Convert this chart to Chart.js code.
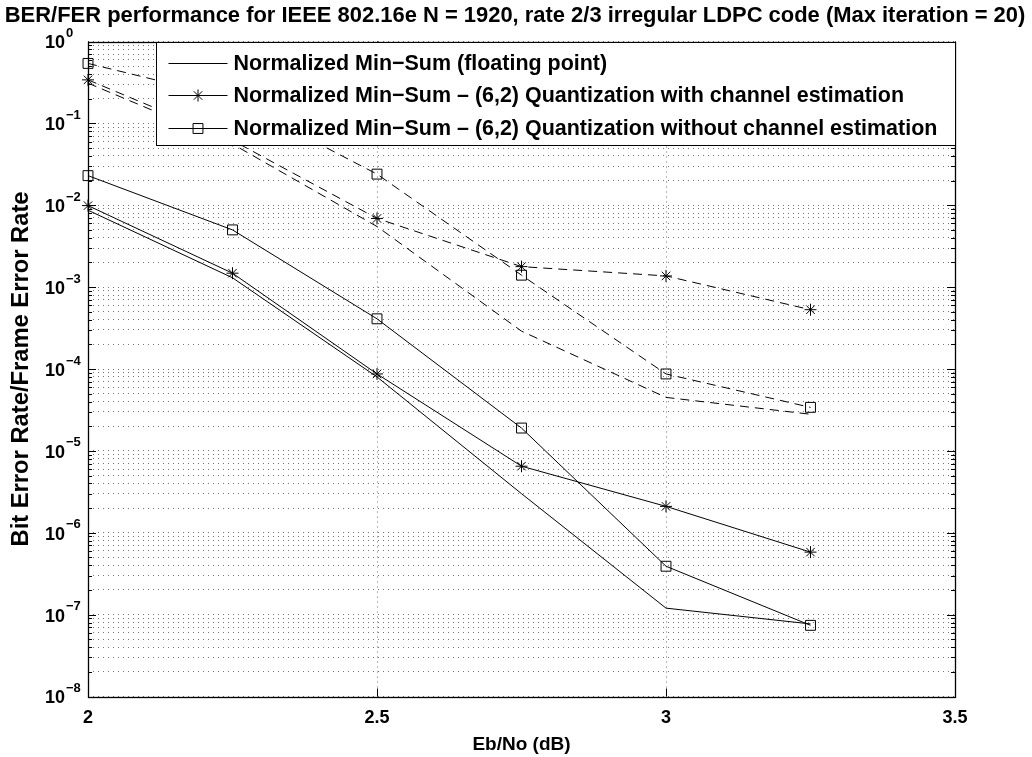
<!DOCTYPE html>
<html>
<head>
<meta charset="utf-8">
<script src="https://cdn.jsdelivr.net/npm/chart.js@4.4.1/dist/chart.umd.min.js"></script>
<style>
  html, body { margin: 0; padding: 0; background: #fff; }
</style>
</head>
<body>
<canvas id="ber-fer-chart" width="1032" height="757"></canvas>
<script>
const EBNO = [2, 2.25, 2.5, 2.75, 3, 3.25];

// bit error rate (solid lines)
const BER_FLOAT = [8.7e-3, 1.3e-3, 8.0e-5, 3.0e-6, 1.2e-7, 7.7e-8];
const BER_Q_CE = [9.9e-3, 1.48e-3, 8.7e-5, 6.5e-6, 2.1e-6, 5.8e-7];
const BER_Q_NOCE = [2.3e-2, 5.0e-3, 4.1e-4, 1.9e-5, 3.9e-7, 7.4e-8];

// frame error rate (dashed lines)
const FER_FLOAT = [0.31, 0.056, 5.5e-3, 2.9e-4, 4.5e-5, 2.8e-5];
const FER_Q_CE = [0.34, 0.062, 6.9e-3, 1.78e-3, 1.37e-3, 5.3e-4];
const FER_Q_NOCE = [0.54, 0.20, 2.4e-2, 1.4e-3, 8.7e-5, 3.4e-5];

const X_TICKS = [2, 2.5, 3, 3.5];
const Y_EXPONENTS = [-8, -7, -6, -5, -4, -3, -2, -1, 0];

const TITLE = 'BER/FER performance for IEEE 802.16e N = 1920, rate 2/3 irregular LDPC code (Max iteration = 20)';
const X_LABEL = 'Eb/No (dB)';
const Y_LABEL = 'Bit Error Rate/Frame Error Rate';
const LABEL_FLOAT = 'Normalized Min\u2212Sum (floating point)';
const LABEL_CE = 'Normalized Min\u2212Sum \u2013 (6,2) Quantization with channel estimation';
const LABEL_NOCE = 'Normalized Min\u2212Sum \u2013 (6,2) Quantization without channel estimation';

const FONT = '"Liberation Sans", Arial, Helvetica, sans-serif';
const GRID_COLOR = 'rgba(0,0,0,0.55)';
const DASH = [9, 6];

const STAR = { pointStyle: 'star', pointRadius: 6 };
const SQUARE = { pointStyle: 'rect', pointRadius: 7 };
const NONE = { pointRadius: 0 };

function series(label, values, marker, dashed, inLegend) {
  return Object.assign({
    label: label,
    data: EBNO.map((x, i) => ({ x: x, y: values[i] })),
    borderColor: '#000',
    borderWidth: 1,
    borderDash: dashed ? DASH : [],
    pointBorderColor: '#000',
    pointBackgroundColor: 'rgba(0,0,0,0)',
    pointBorderWidth: 1,
    tension: 0,
    clip: false,
    inLegend: inLegend,
  }, marker);
}

// size a bold font so the text spans the given width
function fitFont(ctx, text, width) {
  ctx.font = 'bold 100px ' + FONT;
  return 100 * width / ctx.measureText(text).width;
}

function drawMarker(ctx, style, r, x, y) {
  ctx.beginPath();
  if (style === 'star') {
    for (let k = 0; k < 4; k++) {
      const a = k * Math.PI / 4;
      ctx.moveTo(x - r * Math.cos(a), y - r * Math.sin(a));
      ctx.lineTo(x + r * Math.cos(a), y + r * Math.sin(a));
    }
  } else if (style === 'rect') {
    const s = r * Math.SQRT1_2;
    ctx.rect(x - s, y - s, 2 * s, 2 * s);
  }
  ctx.stroke();
}

// box, inward ticks and the legend on top of the lines
const frameAndLegend = {
  id: 'frameAndLegend',
  afterDatasetsDraw(chart) {
    const { ctx, chartArea: a } = chart;
    const xs = chart.scales.x, ys = chart.scales.y;
    ctx.save();
    ctx.strokeStyle = '#000';
    ctx.lineWidth = 1;
    ctx.setLineDash([]);

    ctx.beginPath();
    ys.ticks.forEach(t => {
      const y = Math.round(ys.getPixelForValue(t.value)) + 0.5;
      const e = Math.log10(t.value);
      const len = Math.abs(e - Math.round(e)) < 1e-9 ? 8 : 4;
      ctx.moveTo(a.left, y); ctx.lineTo(a.left + len, y);
      ctx.moveTo(a.right, y); ctx.lineTo(a.right - len, y);
    });
    xs.ticks.forEach(t => {
      const x = Math.round(xs.getPixelForValue(t.value)) + 0.5;
      ctx.moveTo(x, a.bottom); ctx.lineTo(x, a.bottom - 8);
      ctx.moveTo(x, a.top); ctx.lineTo(x, a.top + 8);
    });
    ctx.stroke();

    ctx.lineWidth = 1.3;
    ctx.strokeRect(Math.round(a.left) + 0.5, Math.round(a.top) + 0.5,
      Math.round(a.right - a.left), Math.round(a.bottom - a.top));

    // legend
    const items = chart.data.datasets.filter(d => d.inLegend);
    const left = Math.round(a.left + 68) + 0.5;
    const top = Math.round(a.top) + 0.5;
    const right = Math.round(a.right) + 0.5;
    const height = 103;
    ctx.fillStyle = '#fff';
    ctx.fillRect(left, top, right - left, height);
    ctx.lineWidth = 1;
    ctx.strokeRect(left, top, right - left, height);

    const longest = items.reduce((m, d) => d.label.length > m.length ? d.label : m, '');
    const size = fitFont(ctx, longest, 704);
    ctx.font = 'bold ' + size.toFixed(2) + 'px ' + FONT;
    ctx.textBaseline = 'middle';
    ctx.textAlign = 'left';
    items.forEach((d, i) => {
      const y = Math.round(top + 20 + i * 32.5) + 0.5;
      ctx.strokeStyle = '#000';
      ctx.lineWidth = 1;
      ctx.setLineDash(d.borderDash || []);
      ctx.beginPath();
      ctx.moveTo(left + 12, y);
      ctx.lineTo(left + 71, y);
      ctx.stroke();
      ctx.setLineDash([]);
      if (d.pointRadius > 0) drawMarker(ctx, d.pointStyle, d.pointRadius, left + 41.5, y);
      ctx.fillStyle = '#000';
      ctx.fillText(d.label, left + 77, y + 1);
    });
    ctx.restore();
  },
  afterDraw(chart) {
    const { ctx, chartArea: a } = chart;
    const xs = chart.scales.x, ys = chart.scales.y;
    ctx.save();
    ctx.fillStyle = '#000';

    // title
    ctx.font = 'bold ' + fitFont(ctx, TITLE, 1021).toFixed(2) + 'px ' + FONT;
    ctx.textAlign = 'center';
    ctx.textBaseline = 'alphabetic';
    ctx.fillText(TITLE, 515, 21.5);

    // x ticks + label
    ctx.font = 'bold 18px ' + FONT;
    ctx.textBaseline = 'middle';
    X_TICKS.forEach(v => ctx.fillText(String(v), xs.getPixelForValue(v), 718));
    ctx.font = 'bold 19px ' + FONT;
    ctx.fillText(X_LABEL, (a.left + a.right) / 2, 745);

    // y ticks as 10^n
    Y_EXPONENTS.forEach(e => {
      const y = ys.getPixelForValue(Math.pow(10, e));
      ctx.font = 'bold 18px ' + FONT;
      ctx.textAlign = 'right';
      ctx.fillText('10', 65, y + 2);
      ctx.font = 'bold 13px ' + FONT;
      ctx.textAlign = 'left';
      ctx.fillText(e < 0 ? '\u2212' + Math.abs(e) : String(e), 66, y - 8);
    });

    // y label
    ctx.translate(21, (a.top + a.bottom) / 2);
    ctx.rotate(-Math.PI / 2);
    ctx.font = 'bold ' + fitFont(ctx, Y_LABEL, 355).toFixed(2) + 'px ' + FONT;
    ctx.textAlign = 'center';
    ctx.fillText(Y_LABEL, 0, 0);
    ctx.restore();
  },
};

const $canvas = document.getElementById('ber-fer-chart');

const berFerChart = new Chart($canvas, {
  type: 'line',
  data: {
    datasets: [
      series(LABEL_FLOAT, BER_FLOAT, NONE, false, true),
      series(LABEL_CE, BER_Q_CE, STAR, false, true),
      series(LABEL_NOCE, BER_Q_NOCE, SQUARE, false, true),
      series(LABEL_FLOAT + ' FER', FER_FLOAT, NONE, true, false),
      series(LABEL_CE + ' FER', FER_Q_CE, STAR, true, false),
      series(LABEL_NOCE + ' FER', FER_Q_NOCE, SQUARE, true, false),
    ],
  },
  options: {
    responsive: false,
    animation: false,
    devicePixelRatio: 1,
    layout: {
      padding: { top: 41.5, right: 77, bottom: 0, left: 0 },
    },
    scales: {
      x: {
        type: 'linear',
        min: 2,
        max: 3.5,
        afterBuildTicks: scale => {
          scale.ticks = X_TICKS.map(v => ({ value: v }));
        },
        afterFit: scale => {
          scale.height = 60.5;
        },
        ticks: { display: false },
        grid: { color: GRID_COLOR, lineWidth: 1, drawTicks: false },
        border: { display: false, dash: [1, 4] },
      },
      y: {
        type: 'logarithmic',
        min: 1e-8,
        max: 1,
        afterBuildTicks: scale => {
          const ticks = [];
          Y_EXPONENTS.forEach(e => {
            for (let m = 1; m <= 9; m++) {
              const v = m * Math.pow(10, e);
              if (v <= 1) ticks.push({ value: v });
            }
          });
          scale.ticks = ticks;
        },
        afterFit: scale => {
          scale.width = 88;
        },
        ticks: { display: false },
        grid: { color: GRID_COLOR, lineWidth: 1, drawTicks: false },
        border: { display: false, dash: [1, 4] },
      },
    },
    plugins: {
      legend: { display: false },
      title: { display: false },
      tooltip: { enabled: false },
    },
  },
  plugins: [frameAndLegend],
});
</script>
</body>
</html>
